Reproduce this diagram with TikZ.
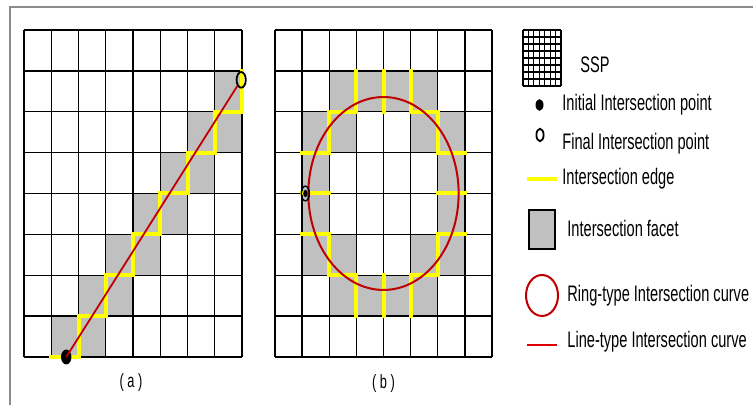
\documentclass[tikz,border=0pt]{standalone}
\usepackage{fontspec}
\setmainfont{Liberation Sans}
\usepackage{graphicx}
\usetikzlibrary{shapes.geometric}
\definecolor{facetgray}{HTML}{C0C0C0}
\definecolor{edgeyellow}{HTML}{FFFF00}
\definecolor{ringred}{HTML}{C00000}
\definecolor{linered}{HTML}{E00000}
\definecolor{framegray}{HTML}{8C8C8C}
\newcommand\vstretch[1]{\scalebox{1}[1.54]{#1}}
\begin{document}
\begin{tikzpicture}[x=0.5pt,y=0.5pt,
  gridline/.style={draw=black, line width=0.65pt},
  facetcell/.style={fill=facetgray},
  yedge/.style={draw=edgeyellow, line width=2pt, line cap=rect, line join=miter},
  redcurve/.style={draw=ringred, line width=0.9pt},
  initpt/.style={ellipse, fill=black, inner sep=0pt, minimum width=5.2pt, minimum height=7.5pt},
  finalpt/.style={ellipse, draw=black, line width=0.9pt, inner sep=0pt, minimum width=4.6pt, minimum height=7.8pt},
  lbl/.style={anchor=base west, inner sep=0pt, font=\fontsize{7.3}{9}\selectfont},
  sublbl/.style={anchor=center, inner sep=0pt, font=\fontsize{6.4}{7}\selectfont},
]
\useasboundingbox (0,0) rectangle (753,405);
% frame
\draw[framegray, line width=0.6pt] (10,0) -- (10,398) -- (753,398);

% ---------------- (a) ----------------
\begin{scope}[xshift=12pt, yshift=24pt, x=13.625pt, y=20.4375pt]
  \foreach \c/\r in {1/0,2/0,2/1,3/1,3/2,4/2,4/3,5/3,5/4,6/4,6/5,7/5,7/6}
    \fill[facetcell] (\c,\r) rectangle ++(1,1);
  \foreach \i in {0,...,8} {
    \draw[gridline] (\i,0) -- (\i,8);
    \draw[gridline] (0,\i) -- (8,\i);
  }
  \draw[yedge] (1,0) -- (2,0) -- (2,1) -- (3,1) -- (3,2) -- (4,2) -- (4,3) -- (5,3)
    -- (5,4) -- (6,4) -- (6,5) -- (7,5) -- (7,6) -- (8,6) -- (8,7);
  \node[initpt] (ainit) at (1.55,0) {};
  \node[finalpt] (afinal) at (7.97,6.78) {};
  \draw[redcurve] (ainit.center) -- (afinal);
\end{scope}
\node[sublbl] (labela) at (131,22) {\scalebox{1}[1.5]{(\hspace{1.8pt}a\hspace{1.8pt})}};

% ---------------- (b) ----------------
\begin{scope}[xshift=137.5pt, yshift=24pt, x=13.5625pt, y=20.4375pt]
  \foreach \c/\r in {2/6,3/6,4/6,5/6, 1/5,2/5,5/5,6/5, 1/4,6/4, 1/3,6/3, 1/2,2/2,5/2,6/2, 2/1,3/1,4/1,5/1}
    \fill[facetcell] (\c,\r) rectangle ++(1,1);
  \foreach \i in {0,...,8} {
    \draw[gridline] (\i,0) -- (\i,8);
    \draw[gridline] (0,\i) -- (8,\i);
  }
  \draw[yedge] (1,5) -- (2,5) -- (2,6) -- (3,6) -- (3,7);
  \draw[yedge] (7,5) -- (6,5) -- (6,6) -- (5,6) -- (5,7);
  \draw[yedge] (4,6) -- (4,7);
  \draw[yedge] (1,4) -- (2,4);
  \draw[yedge] (6,4) -- (7,4);
  \draw[yedge] (1,3) -- (2,3) -- (2,2) -- (3,2) -- (3,1);
  \draw[yedge] (7,3) -- (6,3) -- (6,2) -- (5,2) -- (5,1);
  \draw[yedge] (4,1) -- (4,2);
  \coordinate (bcenter) at (4,4);
  \draw[ringred, line width=1pt] (bcenter) ellipse [x radius=2.77, y radius=2.36];
  \node[finalpt, minimum width=4pt, minimum height=7.4pt, line width=0.7pt] (bpoint) at (1.12,4) {};
  \node[ellipse, fill=black, inner sep=0pt, minimum width=2.2pt, minimum height=3.6pt] (bdot) at (bpoint.center) {};
\end{scope}
\node[sublbl] (labelb) at (383.5,21) {\scalebox{1}[1.5]{(\hspace{1.8pt}b\hspace{1.8pt})}};

% ---------------- legend ----------------
% SSP icon
\foreach \i in {0,...,7}
  \draw[black, line width=0.55pt] ({523+\i*38/7},319) -- ({523+\i*38/7},375);
\foreach \j in {0,...,8}
  \draw[black, line width=0.55pt] (523,{319+\j*7}) -- (561,{319+\j*7});
\node[lbl] (tssp) at (580,332) {\vstretch{SSP}};

\node[ellipse, fill=black, inner sep=0pt, minimum width=4pt, minimum height=5.8pt] (legdot) at (539.5,300) {};
\node[lbl] (tinit) at (562,294) {\vstretch{Initial Intersection point}};

\node[finalpt, minimum width=3.6pt, minimum height=6.2pt] (legring) at (540,270) {};
\node[lbl] (tfinal) at (562,255) {\vstretch{Final Intersection point}};

\draw[edgeyellow, line width=2pt] (527,226) -- (557,226);
\node[lbl] (tedge) at (562,220) {\vstretch{Intersection edge}};

\draw[black, line width=0.75pt, fill=facetgray] (529,156) rectangle (555,195);
\node[lbl] (tfacet) at (567,168) {\vstretch{Intersection facet}};

\draw[ringred, line width=1pt] (542,109.5) ellipse [x radius=16, y radius=20.5];
\node[lbl] (tring) at (567,103) {\vstretch{Ring-type Intersection curve}};

\draw[linered, line width=1.3pt] (527,60) -- (557,60);
\node[lbl] (tline) at (567,57) {\vstretch{Line-type Intersection curve}};
\end{tikzpicture}
\end{document}
